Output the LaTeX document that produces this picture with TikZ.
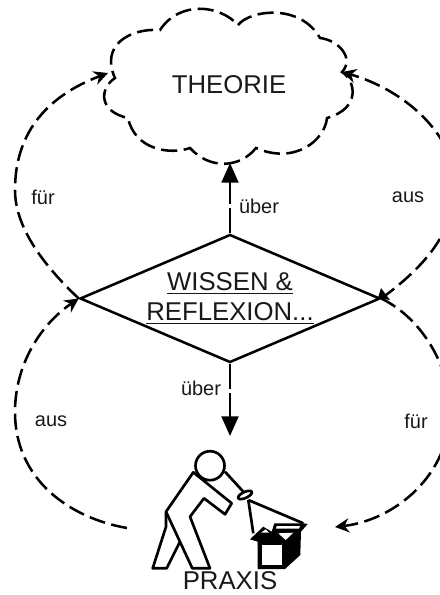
\documentclass[tikz,border=0pt]{standalone}
\usepackage{fontspec}
\setmainfont{Liberation Sans}
\usetikzlibrary{arrows.meta,shapes.geometric}

\tikzset{
  biglabel/.style={font=\fontsize{18.3}{21.3}\selectfont, text=black!90, inner sep=0pt},
  smalllabel/.style={font=\fontsize{14.2}{16}\selectfont, text=black!90},
  cloudline/.style={line width=1.8pt, dash pattern=on 11.5pt off 4.6pt},
  loopline/.style={cloudline, -{Stealth[length=10pt,width=10pt]}},
  overline/.style={line width=1.8pt, dash pattern=on 18pt off 3pt, -{Triangle[length=14pt,width=12pt]}},
  figure/.style={line width=1.9pt, line join=round}
}

\begin{document}
\begin{tikzpicture}[x=0.025cm, y=-0.025cm, >=Latex]
  \useasboundingbox (0,0) rectangle (440,595);
  \clip (0,0) rectangle (440,595);
  % anchors for the free ends
  \coordinate (cloudL) at (108,73);
  \coordinate (cloudR) at (342,72);
  \coordinate (cloudB) at (230,163);
  \coordinate (praxisT) at (230,436);
  \coordinate (praxisL) at (127,528);
  \coordinate (praxisR) at (335,527);
  % cloud
  \draw[cloudline] (238,25)
    .. controls (250,10) and (300,3) .. (320,38)
    .. controls (338,40) and (355,58) .. (342,72)
    .. controls (355,80) and (362,108) .. (327,118)
    .. controls (325,140) and (295,165) .. (256,148)
    .. controls (240,168) and (210,170) .. (190,148)
    .. controls (170,155) and (135,150) .. (128,118)
    .. controls (100,112) and (98,90) .. (115,78)
    .. controls (100,45) and (130,28) .. (160,30)
    .. controls (180,0) and (220,5) .. (238,25);
  \node[biglabel] (theorie) at (229,85) {THEORIE};
  % diamond
  \node[draw, diamond, line width=1.8pt, aspect=2.4, minimum width=7.5cm, minimum height=3.2cm, biglabel, align=center] (wissen) at (230,298.5) {\underline{WISSEN \&}\\\underline{REFLEXION...}};
  \fill (381,288) -- (390,300) -- (378,298) -- cycle;
  % person
  \draw[figure] (210,465.7) circle (14.5);
  \draw[figure] (193.3,472.3) -- (166,511.7) -- (192.3,568.3) -- (210,568.3) -- (190,516.7) -- (204,498.3) -- (225,514.3) -- (231.7,503.3) -- cycle;
  \draw[figure] (166,511.7) -- (166,526.7) -- (152.7,568.3) -- (166.7,568.3) -- (180,541.7);
  \draw[figure] (225,471.7) -- (243.3,491.7);
  \draw[figure, rotate around={25:(245,495)}] (245,495) ellipse (7.5 and 3);
  \draw[figure] (248.3,500) -- (253.3,533.3);
  \draw[figure] (248.3,500) -- (303.3,523.3);
  % box
  \fill[black] (250,539.3) -- (263.3,526.7) -- (271.7,531.7) -- (274.3,523.3) -- (303.3,523.3) -- (307.7,524) -- (301,531.7) -- (300.3,555) -- (285,569) -- (257.7,569) -- (257.7,541.7) -- cycle;
  \fill[white] (261.7,545) rectangle (281.7,565);
  \fill[white] (278.3,533.3) -- (293.3,532.7) -- (285.7,540) -- cycle;
  \fill[white] (261,532.7) -- (265.7,529.3) -- (269,532.7) -- cycle;
  \fill[white] (276.7,526) -- (300,526) -- (299,528.7) -- (276,528.7) -- cycle;
  \node[biglabel] (praxis) at (230,581) {PRAXIS};
  % connectors
  \draw[overline] (wissen.north) -- (cloudB);
  \draw[overline] (wissen.south) -- (praxisT);
  \draw[loopline] (wissen.west) .. controls (40,262) and (15,225) .. (15,190) .. controls (15,130) and (50,95) .. (cloudL);
  \draw[loopline] (praxisL) .. controls (70,518) and (15,480) .. (15,412) .. controls (15,365) and (40,325) .. (wissen.west);
  \draw[loopline] (wissen.east) .. controls (420,270) and (455,235) .. (455,185) .. controls (455,135) and (405,90) .. (cloudR);
  \draw[loopline] (wissen.east) .. controls (425,320) and (450,370) .. (450,410) .. controls (450,475) and (395,520) .. (praxisR);
  % labels
  \node[smalllabel] (fuerL) at (43,197) {für};
  \node[smalllabel] (ueberT) at (259,206) {über};
  \node[smalllabel] (ausR) at (408,197) {aus};
  \node[smalllabel] (ueberB) at (201,388) {über};
  \node[smalllabel] (ausL) at (51,421) {aus};
  \node[smalllabel] (fuerR) at (416,421) {für};
\end{tikzpicture}
\end{document}
